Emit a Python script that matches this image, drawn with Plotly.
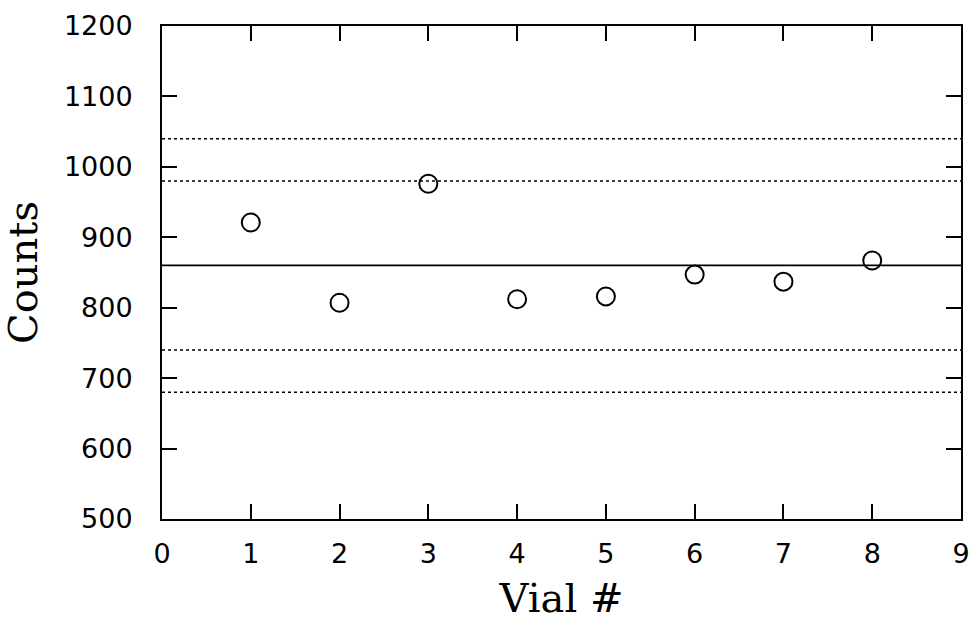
import plotly.graph_objects as go

vials = [1, 2, 3, 4, 5, 6, 7, 8]
counts = [921, 807, 976, 812, 816, 847, 837, 867]

mean_count = 860
inner_limits = [980, 740]
outer_limits = [1040, 680]
x_span = [0, 9]

x_ticks = list(range(0, 10))
y_ticks = list(range(500, 1300, 100))

fig = go.Figure()

for lvl in outer_limits + inner_limits:
    fig.add_trace(go.Scatter(x=x_span, y=[lvl, lvl], mode="lines",
                             line=dict(color="black", width=1.5, dash="dot"),
                             showlegend=False, hoverinfo="skip"))

fig.add_trace(go.Scatter(x=x_span, y=[mean_count, mean_count], mode="lines",
                         line=dict(color="black", width=1.8),
                         showlegend=False, hoverinfo="skip"))

fig.add_trace(go.Scatter(x=vials, y=counts, mode="markers",
                         marker=dict(symbol="circle-open", size=18,
                                     color="black", line=dict(width=2)),
                         showlegend=False))

tick_font = dict(family="DejaVu Sans", size=27, color="black")
title_font = dict(family="DejaVu Serif", size=40, color="black")

fig.update_layout(
    width=980, height=627,
    margin=dict(l=162, r=10, t=23, b=108),
    paper_bgcolor="white", plot_bgcolor="white",
    xaxis=dict(range=[0, 9], tickvals=x_ticks, ticks="inside", ticklen=15,
               tickwidth=1.5, tickcolor="black", showline=True, linecolor="black",
               linewidth=2, mirror="ticks", showgrid=False, zeroline=False,
               tickfont=tick_font, ticklabelstandoff=10,
               title=dict(text="Vial #", font=title_font, standoff=16)),
    yaxis=dict(range=[500, 1200], tickvals=y_ticks, ticks="inside", ticklen=15,
               tickwidth=1.5, tickcolor="black", showline=True, linecolor="black",
               linewidth=2, mirror="ticks", showgrid=False, zeroline=False,
               tickfont=tick_font, ticklabelstandoff=22,
               title=dict(text="Counts", font=title_font, standoff=14)),
)

fig.write_html("out.html")
